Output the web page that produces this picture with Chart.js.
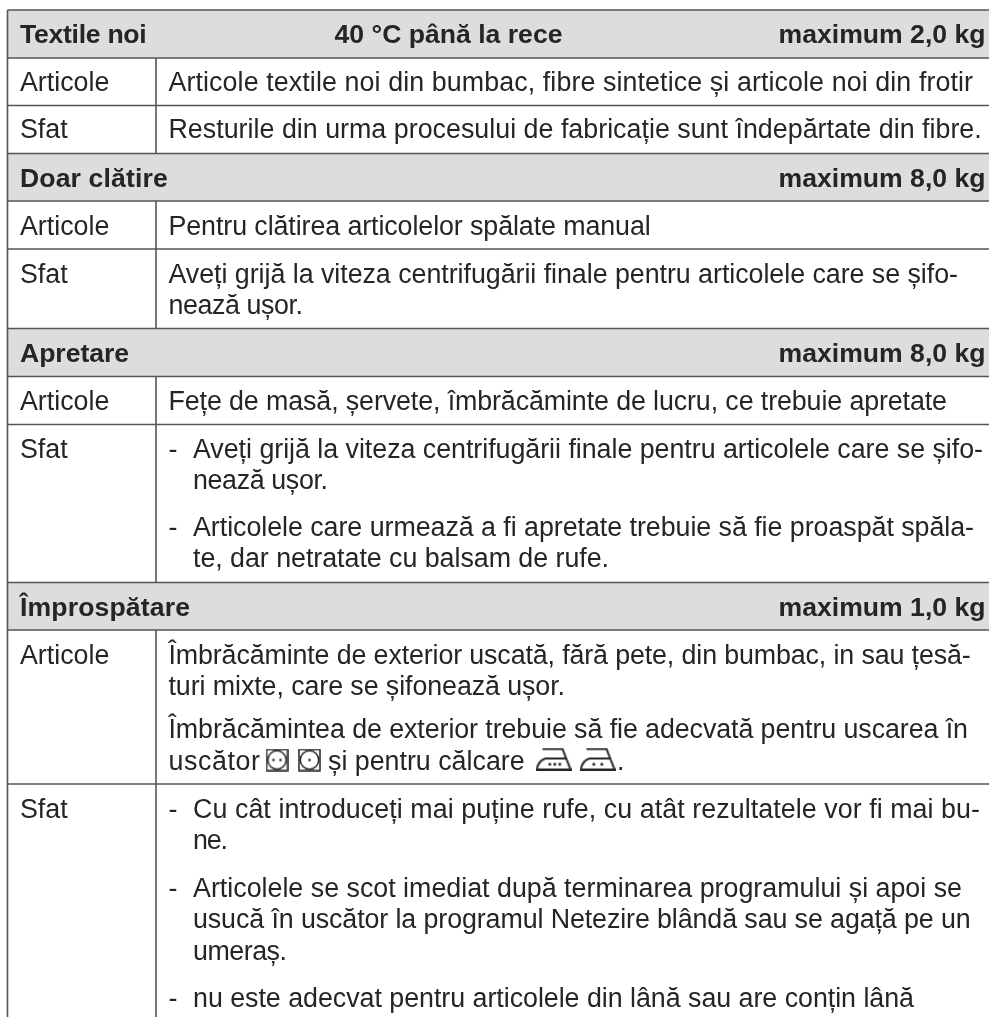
<!DOCTYPE html>
<html>
<head>
<meta charset="utf-8">
<style>
html,body{margin:0;padding:0;background:#fff}
#wrap{width:989px;height:1017px}
</style>
<script src="https://cdn.jsdelivr.net/npm/chart.js@4"></script>
</head>
<body>
<div id="wrap"><canvas id="tabel"></canvas></div>
<script>
// row edges and band rows, in picture units
const rowEdges=[10,58,105.5,153.5,201,249,328.5,376.5,424.5,582.5,630,784];
const bandTops=[10,153.5,328.5,582.5];
const bandBottoms=[58,201,376.5,630];
const dividerTops=[58,201,376.5,630];
const dividerBottoms=[153.5,328.5,582.5,1017];

const headerNames=["Textile noi","Doar clătire","Apretare","Împrospătare"];
const headerNameY=[43,187,362,616];
const headerNameEnd=[146.7,167.7,129,190];
const headerLimits=["maximum 2,0 kg","maximum 8,0 kg","maximum 8,0 kg","maximum 1,0 kg"];
const headerNote=["40 °C până la rece"];

const rowLabels=["Articole","Sfat","Articole","Sfat","Articole","Sfat","Articole","Sfat"];
const rowLabelY=[91,138,235,283,410,458,664,818];

const bodyLines=[
"Articole textile noi din bumbac, fibre sintetice și articole noi din frotir",
"Resturile din urma procesului de fabricație sunt îndepărtate din fibre.",
"Pentru clătirea articolelor spălate manual",
"Aveți grijă la viteza centrifugării finale pentru articolele care se șifo-",
"nează ușor.",
"Fețe de masă, șervete, îmbrăcăminte de lucru, ce trebuie apretate",
"Îmbrăcăminte de exterior uscată, fără pete, din bumbac, in sau țesă-",
"turi mixte, care se șifonează ușor.",
"Îmbrăcămintea de exterior trebuie să fie adecvată pentru uscarea în",
"uscător"
];
const bodyLineY=[91,138,235,283,314,410,664,695,738,770];
const bodyLineEnd=[973,981.7,650.7,958,303,947,970.7,565,968,260];

const bulletLines=[
"Aveți grijă la viteza centrifugării finale pentru articolele care se șifo-",
"nează ușor.",
"Articolele care urmează a fi apretate trebuie să fie proaspăt spăla-",
"te, dar netratate cu balsam de rufe.",
"Cu cât introduceți mai puține rufe, cu atât rezultatele vor fi mai bu-",
"ne.",
"Articolele se scot imediat după terminarea programului și apoi se",
"usucă în uscător la programul Netezire blândă sau se agață pe un",
"umeraș.",
"nu este adecvat pentru articolele din lână sau are conțin lână"
];
const bulletLineY=[458,489,536,567,818,849,897,928,960,1007];
const bulletLineEnd=[983,328,974,609,980,228,962,970.7,287,914];
const dashY=[458,536,818,897,1007];

const inlineText=["și pentru călcare",".",];
const inlineX=[328,617];
const inlineY=[770,770];

const dryerX=[277,309.5];
const ironX=[553.5,597.5];
const symbolY=[760,759];

const ink="#262425";
const ruleColor="#555555";
const bandColor="#dcddde";
const bodyFont="26.8px 'Liberation Sans'";
const boldFont="bold 26.6px 'Liberation Sans'";

function dryerIcon(dots){
  const c=document.createElement("canvas");c.width=23;c.height=23;
  const g=c.getContext("2d");
  g.strokeStyle=ink;g.fillStyle=ink;g.lineWidth=1.5;
  g.strokeRect(1,1,21,21);
  g.beginPath();g.arc(11.5,11.5,9.2,0,Math.PI*2);g.stroke();
  dots.forEach(x=>{g.beginPath();g.arc(x,11.5,1.3,0,Math.PI*2);g.fill()});
  return c;
}
function ironIcon(dots){
  const c=document.createElement("canvas");c.width=36;c.height=23;
  const g=c.getContext("2d");
  g.strokeStyle=ink;g.fillStyle=ink;g.lineWidth=2;
  g.beginPath();g.moveTo(7,1.5);g.lineTo(27,1.5);g.lineTo(35,22);g.lineTo(1,22);
  g.bezierCurveTo(2.5,16,6,12,10,11);g.lineTo(31,11);g.stroke();
  dots.forEach(x=>{g.fillRect(x,15.5,2.6,2.6)});
  return c;
}

const datasets=[];
rowEdges.forEach(y=>{
  datasets.push({data:[{x:7.5,y:y},{x:989,y:y}],showLine:true,pointRadius:0,borderColor:ruleColor,borderWidth:1.6,order:1});
});
dividerTops.forEach((t,i)=>{
  datasets.push({data:[{x:156,y:t},{x:156,y:dividerBottoms[i]}],showLine:true,pointRadius:0,borderColor:ruleColor,borderWidth:1.6,order:1});
});
datasets.push({data:[{x:7.5,y:10},{x:7.5,y:1017}],showLine:true,pointRadius:0,borderColor:ruleColor,borderWidth:1.6,order:1});
bandTops.forEach((t,i)=>{
  datasets.push({data:[{x:7.5,y:t},{x:989,y:t}],showLine:true,pointRadius:0,borderWidth:0,
    fill:{target:{value:bandBottoms[i]},above:bandColor,below:bandColor},order:3});
});
datasets.push({data:dryerX.map(x=>({x:x,y:symbolY[0]})),pointStyle:[dryerIcon([8,15]),dryerIcon([11.5])],order:0});
datasets.push({data:ironX.map(x=>({x:x,y:symbolY[1]})),pointStyle:[ironIcon([13,18,23]),ironIcon([13,21])],order:0});

const textPlugin={
  id:"textPlugin",
  afterDatasetsDraw(chart){
    const {ctx,scales:{x,y}}=chart;
    const put=(s,px,py,font,align,end)=>{
      ctx.font=font;ctx.textAlign=align||"left";ctx.letterSpacing="0px";
      // Helvetica in the source runs a little wider or narrower per line
      if(end) ctx.letterSpacing=((end-px-ctx.measureText(s).width)/(s.length-1))+"px";
      ctx.fillText(s,x.getPixelForValue(px),y.getPixelForValue(py));
    };
    ctx.save();
    ctx.fillStyle=ink;ctx.textBaseline="alphabetic";
    headerNames.forEach((s,i)=>put(s,20,headerNameY[i],boldFont,"left",headerNameEnd[i]));
    headerLimits.forEach((s,i)=>put(s,985.5,headerNameY[i],boldFont,"right"));
    put(headerNote[0],448.5,headerNameY[0],boldFont,"center");
    rowLabels.forEach((s,i)=>put(s,20,rowLabelY[i],bodyFont));
    bodyLines.forEach((s,i)=>put(s,168.5,bodyLineY[i],bodyFont,"left",bodyLineEnd[i]));
    bulletLines.forEach((s,i)=>put(s,193,bulletLineY[i],bodyFont,"left",bulletLineEnd[i]));
    dashY.forEach(v=>put("-",168.5,v,bodyFont));
    inlineText.forEach((s,i)=>put(s,inlineX[i],inlineY[i],bodyFont));
    ctx.restore();
  }
};

new Chart(document.getElementById("tabel"),{
  type:"scatter",
  data:{datasets:datasets},
  options:{
    responsive:true,
    maintainAspectRatio:false,
    animation:false,
    layout:{padding:0,autoPadding:false},
    plugins:{legend:{display:false},tooltip:{enabled:false}},
    scales:{
      x:{type:"linear",min:0,max:989,display:false},
      y:{type:"linear",min:0,max:1017,reverse:true,display:false}
    }
  },
  plugins:[textPlugin]
});
</script>
</body>
</html>
